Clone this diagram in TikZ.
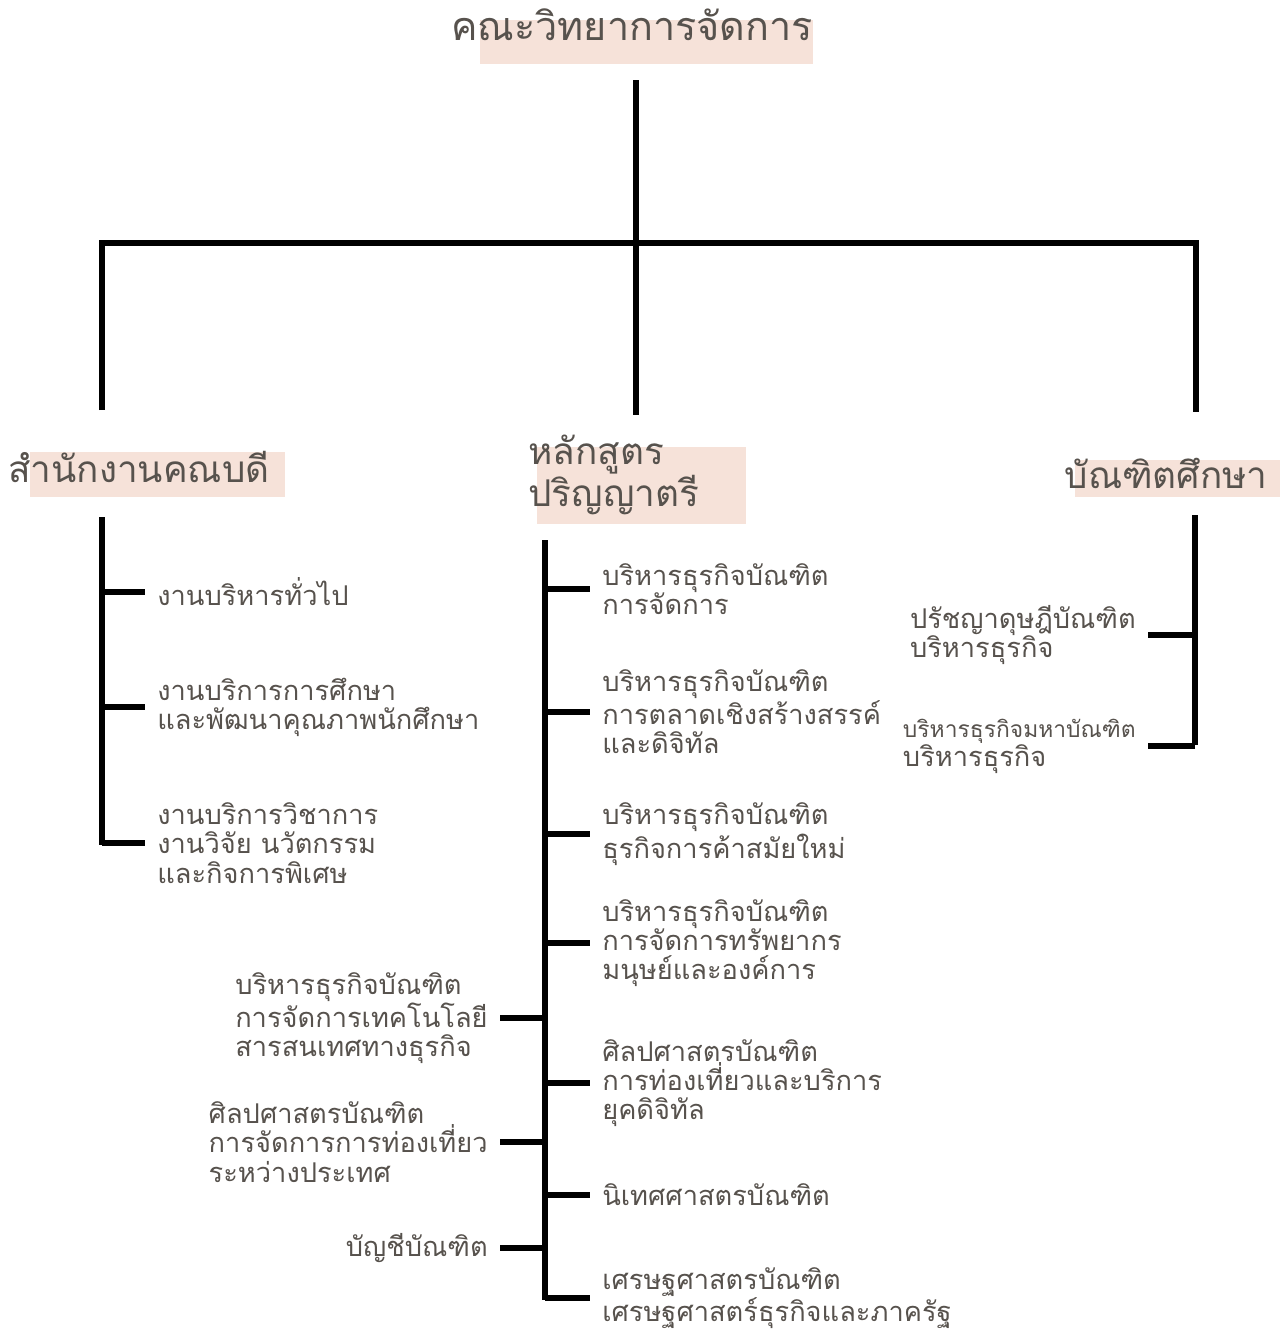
\documentclass[tikz,border=0pt]{standalone}
\usepackage{fontspec}
\setmainfont[Script=Thai]{Loma}
\usetikzlibrary{positioning, calc}
\definecolor{inkgray}{HTML}{57524D}
\definecolor{peach}{HTML}{F6E2D9}
\tikzstyle{title} = [text=inkgray, font=\fontsize{22.5}{26}\selectfont, inner sep=0pt]
\tikzstyle{head} = [text=inkgray, font=\fontsize{21}{21}\selectfont, align=left, inner sep=0pt]
\tikzstyle{item} = [text=inkgray, font=\fontsize{15.5}{16.6}\selectfont, align=left, inner sep=0pt, outer xsep=7pt]
\tikzstyle{hilite} = [fill=peach]
\tikzstyle{branch} = [line width=3.2pt, black]

\begin{document}
\begin{tikzpicture}[x=0.02cm, y=-0.02cm]
\useasboundingbox (0,0) rectangle (1287,1332);

% highlight boxes behind the headings
\fill[hilite] (480,20) rectangle (813,64);
\fill[hilite] (30,452) rectangle (285,497);
\fill[hilite] (537,447) rectangle (746,524);
\fill[hilite] (1075,460) rectangle (1280,497);

% headings
\node[title] (faculty) at (632,25) {คณะวิทยาการจัดการ};
\node[head, anchor=west] (office) at (8,467) {สำนักงานคณบดี};
\node[head, anchor=west] (bachelor) at (528,475) {หลักสูตร\\ปริญญาตรี};
\node[head, anchor=east] (graduate) at (1268,473) {บัณฑิตศึกษา};

% top level tree
\coordinate (facfoot) at (636,80);
\coordinate (jl) at (102,243);
\coordinate (jm) at (636,243);
\coordinate (jr) at (1196,243);
\coordinate (offtop) at (102,410);
\coordinate (bachtop) at (636,415);
\coordinate (gradtop) at (1196,412);
\draw[branch] (facfoot) -- (jm) -- (bachtop);
\draw[branch] (offtop) -- (jl) -- (jr) -- (gradtop);

% office of the dean
\coordinate (ls1) at (102,517);
\coordinate (ls2) at (102,845);
\draw[branch] (ls1) -- (ls2);
\node[item, anchor=west] (a1) at (145,592) {งานบริหารทั่วไป};
\node[item, anchor=west] (a2) at (145,707) {งานบริการการศึกษา\\และพัฒนาคุณภาพนักศึกษา};
\node[item, anchor=west] (a3) at (145,843) {งานบริการวิชาการ\\งานวิจัย นวัตกรรม\\และกิจการพิเศษ};
\draw[branch] (a1.west -| ls1) -- (a1.west);
\draw[branch] (a2.west -| ls1) -- (a2.west);
\draw[branch] (a3.west -| ls1) -- (a3.west);

% bachelor programmes
\coordinate (ms1) at (545,540);
\coordinate (ms2) at (545,1300);
\draw[branch] (ms1) -- (ms2);
\node[item, anchor=west] (b1) at (590,589) {บริหารธุรกิจบัณฑิต\\การจัดการ};
\node[item, anchor=west] (b2) at (590,712) {บริหารธุรกิจบัณฑิต\\การตลาดเชิงสร้างสรรค์\\และดิจิทัล};
\node[item, anchor=west] (b3) at (590,834) {บริหารธุรกิจบัณฑิต\\ธุรกิจการค้าสมัยใหม่};
\node[item, anchor=west] (b4) at (590,943) {บริหารธุรกิจบัณฑิต\\การจัดการทรัพยากร\\มนุษย์และองค์การ};
\node[item, anchor=west] (b5) at (590,1083) {ศิลปศาสตรบัณฑิต\\การท่องเที่ยวและบริการ\\ยุคดิจิทัล};
\node[item, anchor=west] (b6) at (590,1195) {นิเทศศาสตรบัณฑิต};
\node[item, anchor=west] (b7) at (590,1298) {เศรษฐศาสตรบัณฑิต\\เศรษฐศาสตร์ธุรกิจและภาครัฐ};
\draw[branch] (b1.west -| ms1) -- (b1.west);
\draw[branch] (b2.west -| ms1) -- (b2.west);
\draw[branch] (b3.west -| ms1) -- (b3.west);
\draw[branch] (b4.west -| ms1) -- (b4.west);
\draw[branch] (b5.west -| ms1) -- (b5.west);
\draw[branch] (b6.west -| ms1) -- (b6.west);
\draw[branch] (b7.west -| ms1) -- (b7.west);
\node[item, anchor=east] (c1) at (500,1018) {บริหารธุรกิจบัณฑิต\\การจัดการเทคโนโลยี\\สารสนเทศทางธุรกิจ};
\node[item, anchor=east] (c2) at (500,1142) {ศิลปศาสตรบัณฑิต\\การจัดการการท่องเที่ยว\\ระหว่างประเทศ};
\node[item, anchor=east] (c3) at (500,1248) {บัญชีบัณฑิต};
\draw[branch] (c1.east -| ms1) -- (c1.east);
\draw[branch] (c2.east -| ms1) -- (c2.east);
\draw[branch] (c3.east -| ms1) -- (c3.east);

% graduate school
\coordinate (rs1) at (1195,515);
\coordinate (rs2) at (1195,745);
\draw[branch] (rs1) -- (rs2);
\node[item, anchor=east] (d1) at (1148,635) {ปรัชญาดุษฎีบัณฑิต\\บริหารธุรกิจ};
\node[item, anchor=east] (d2) at (1148,746) {{\fontsize{13}{16.6}\selectfont บริหารธุรกิจมหาบัณฑิต}\\บริหารธุรกิจ};
\draw[branch] (d1.east -| rs1) -- (d1.east);
\draw[branch] (d2.east -| rs1) -- (d2.east);
\end{tikzpicture}
\end{document}
